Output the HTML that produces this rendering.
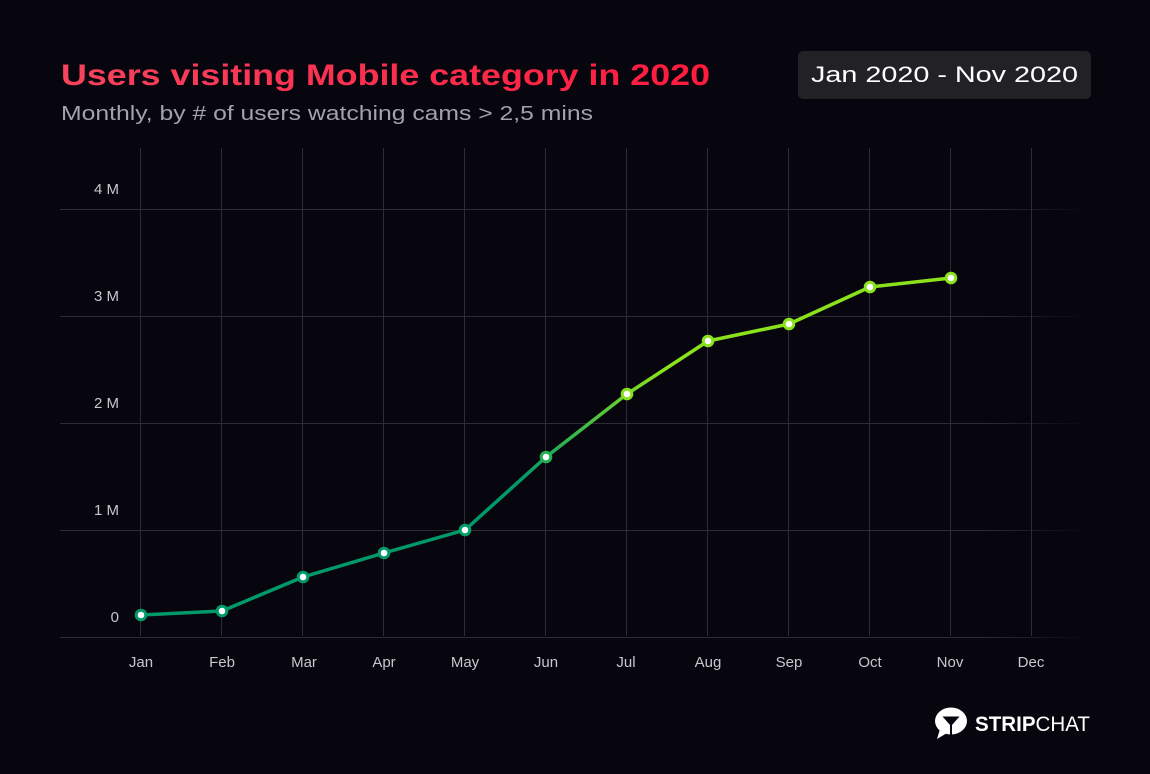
<!DOCTYPE html>
<html><head><meta charset="utf-8"><style>
html,body{margin:0;padding:0;background:#07050d;}
svg{display:block;}
</style></head><body>
<svg width="1150" height="774" viewBox="0 0 1150 774" xmlns="http://www.w3.org/2000/svg">
<defs>
<linearGradient id="tg" x1="61" y1="0" x2="710" y2="0" gradientUnits="userSpaceOnUse">
<stop offset="0" stop-color="#f7435f"/><stop offset="1" stop-color="#ff1a3e"/>
</linearGradient>
<linearGradient id="hg" x1="60" y1="0" x2="1090" y2="0" gradientUnits="userSpaceOnUse">
<stop offset="0" stop-color="#2e2c33"/><stop offset="0.9" stop-color="#2e2c33"/><stop offset="1" stop-color="#2e2c33" stop-opacity="0"/>
</linearGradient>
<linearGradient id="lg" x1="0" y1="480" x2="0" y2="370" gradientUnits="userSpaceOnUse">
<stop offset="0" stop-color="#009a6a"/><stop offset="1" stop-color="#8ae21c"/>
</linearGradient>
</defs>
<rect width="1150" height="774" fill="#07050d"/>
<text x="61" y="85" font-family="Liberation Sans, sans-serif" font-weight="bold" font-size="30" fill="url(#tg)" textLength="649" lengthAdjust="spacingAndGlyphs">Users visiting Mobile category in 2020</text>
<text x="61" y="120" font-family="Liberation Sans, sans-serif" font-size="20" fill="#a3a1aa" textLength="532" lengthAdjust="spacingAndGlyphs">Monthly, by # of users watching cams &gt; 2,5 mins</text>
<rect x="798" y="51" width="293" height="48" rx="5" fill="#222126"/>
<text x="811" y="82" font-family="Liberation Sans, sans-serif" font-size="22" fill="#ffffff" textLength="267" lengthAdjust="spacingAndGlyphs">Jan 2020 - Nov 2020</text>
<!-- grid -->
<g fill="#2e2c33">
<rect x="140" y="148" width="1" height="488"/>
<rect x="221" y="148" width="1" height="488"/>
<rect x="302" y="148" width="1" height="488"/>
<rect x="383" y="148" width="1" height="488"/>
<rect x="464" y="148" width="1" height="488"/>
<rect x="545" y="148" width="1" height="488"/>
<rect x="626" y="148" width="1" height="488"/>
<rect x="707" y="148" width="1" height="488"/>
<rect x="788" y="148" width="1" height="488"/>
<rect x="869" y="148" width="1" height="488"/>
<rect x="950" y="148" width="1" height="488"/>
<rect x="1031" y="148" width="1" height="488"/>
</g>
<g fill="url(#hg)">
<rect x="60" y="209" width="1030" height="1"/>
<rect x="60" y="316" width="1030" height="1"/>
<rect x="60" y="423" width="1030" height="1"/>
<rect x="60" y="530" width="1030" height="1"/>
<rect x="60" y="637" width="1030" height="1"/>
</g>
<g font-family="Liberation Sans, sans-serif" font-size="15" fill="#c9c7cd" text-anchor="end">
<text x="119" y="194">4 M</text>
<text x="119" y="301">3 M</text>
<text x="119" y="408">2 M</text>
<text x="119" y="515">1 M</text>
<text x="119" y="622">0</text>
</g>
<g font-family="Liberation Sans, sans-serif" font-size="15" fill="#c9c7cd" text-anchor="middle">
<text x="141" y="667">Jan</text>
<text x="222" y="667">Feb</text>
<text x="304" y="667">Mar</text>
<text x="384" y="667">Apr</text>
<text x="465" y="667">May</text>
<text x="546" y="667">Jun</text>
<text x="626" y="667">Jul</text>
<text x="708" y="667">Aug</text>
<text x="789" y="667">Sep</text>
<text x="870" y="667">Oct</text>
<text x="950" y="667">Nov</text>
<text x="1031" y="667">Dec</text>
</g>
<polyline fill="none" stroke="url(#lg)" stroke-width="3.5" stroke-linejoin="round" stroke-linecap="round"
points="141,615 222,611 303,577 384,553 465,530 546,457 627,394 708,341 789,324 870,287 951,278"/>
<g fill="#ffffff" stroke-width="3">
<circle cx="141" cy="615" r="4.8" stroke="#009a6a"/>
<circle cx="222" cy="611" r="4.8" stroke="#009a6a"/>
<circle cx="303" cy="577" r="4.8" stroke="#009a6a"/>
<circle cx="384" cy="553" r="4.8" stroke="#009a6a"/>
<circle cx="465" cy="530" r="4.8" stroke="#00a068"/>
<circle cx="546" cy="457" r="4.8" stroke="#22b050"/>
<circle cx="627" cy="394" r="4.8" stroke="#86e01c"/>
<circle cx="708" cy="341" r="4.8" stroke="#8ae21c"/>
<circle cx="789" cy="324" r="4.8" stroke="#8ae21c"/>
<circle cx="870" cy="287" r="4.8" stroke="#8ae21c"/>
<circle cx="951" cy="278" r="4.8" stroke="#8ae21c"/>
</g>
<!-- logo -->
<g>
<ellipse cx="951" cy="721" rx="16" ry="13.5" fill="#ffffff"/>
<path d="M940 729 L937 739 L947 733 Z" fill="#ffffff"/>
<path d="M942.5 716.5 L959.5 716.5 L952 725 L952 734.5 L950 734.5 L950 725 Z" fill="#07050d"/>
</g>
<text x="975" y="731" font-family="Liberation Sans, sans-serif" font-size="21" fill="#ffffff" textLength="115" lengthAdjust="spacingAndGlyphs"><tspan font-weight="bold">STRIP</tspan><tspan>CHAT</tspan></text>
</svg>
</body></html>
